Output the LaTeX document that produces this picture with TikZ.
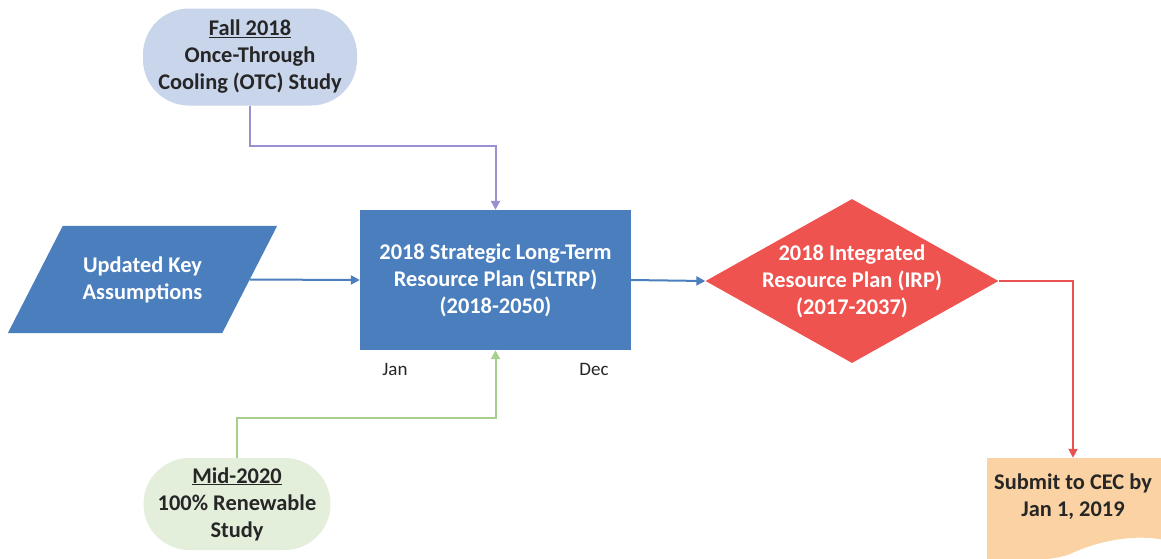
\documentclass[tikz,border=0pt]{standalone}
\usepackage{fontspec}
\setmainfont{Carlito}
\usetikzlibrary{arrows.meta,shapes.geometric,backgrounds}
\definecolor{boxblue}{HTML}{4A7EBD}
\definecolor{lineblue}{HTML}{4A7EBD}
\definecolor{irpred}{HTML}{EF5350}
\definecolor{linered}{HTML}{E85252}
\definecolor{linepurple}{HTML}{9C8FD0}
\definecolor{linegreen}{HTML}{A8D08D}
\definecolor{fillltblue}{HTML}{C8D5EA}
\definecolor{fillltgreen}{HTML}{E3EEDB}
\definecolor{filldoc}{HTML}{FAD2A3}
\definecolor{darktext}{HTML}{262626}
\tikzset{
  bigtext/.style={font=\fontsize{22.4}{27}\selectfont\bfseries, align=center, inner sep=0pt},
  term/.style={bigtext, rounded corners=46pt, text=darktext},
  proc/.style={bigtext, fill=boxblue, text=white, minimum width=271pt, minimum height=140pt},
  conn/.style={line width=2pt, -{Triangle[length=9pt,width=9pt]}},
  small/.style={font=\fontsize{19}{22}\selectfont, text=darktext, inner sep=0pt},
}
\begin{document}
\begin{tikzpicture}[x=1pt,y=-1pt]
\useasboundingbox (0,0) rectangle (1161,558);
\begin{scope}[on background layer]
\fill[white] (0,0) rectangle (1161,558);
\end{scope}

% top terminator
\node[term, fill=fillltblue, minimum width=214pt, minimum height=97pt] (otc) at (250,57)
  {\underline{Fall 2018}\\Once-Through\\Cooling (OTC) Study};

% bottom terminator
\node[term, fill=fillltgreen, minimum width=187pt, minimum height=92pt] (ren) at (237,504)
  {\underline{Mid-2020}\\100\% Renewable\\Study};

% parallelogram
\node[bigtext, text=white, minimum width=214pt, minimum height=107pt] (upd) at (142.5,279.5)
  {Updated Key\\Assumptions};
\begin{scope}[on background layer]
\fill[boxblue] ([xshift=27.5pt]upd.north west) -- ([xshift=27.5pt]upd.north east)
  -- ([xshift=-27.5pt]upd.south east) -- ([xshift=-27.5pt]upd.south west) -- cycle;
\end{scope}

% main process
\node[proc] (sltrp) at (495.5,280)
  {2018 Strategic Long-Term\\Resource Plan (SLTRP)\\(2018-2050)};

\node[small, anchor=base] (jan) at (395,375) {Jan};
\node[small, anchor=base] (dec) at (594,375) {Dec};

% diamond
\node[diamond, fill=irpred, minimum width=293pt, minimum height=164pt, inner sep=0pt,
  label={[bigtext, text=white]center:{2018 Integrated\\Resource Plan (IRP)\\(2017-2037)}}]
  (irp) at (852,281) {};

% document
\node[bigtext, text=darktext, minimum width=172pt, minimum height=78pt] (doc) at (1073,497)
  {Submit to CEC by\\Jan 1, 2019};
\begin{scope}[on background layer]
\fill[filldoc] (987,458) -- (1165,458) -- (1165,540)
  .. controls (1135,534) and (1100,540) .. (1070,554)
  .. controls (1050,562) and (1010,561) .. (987,560) -- cycle;
\end{scope}

% connectors
\draw[conn, linepurple] (otc.south) -- ++(0,40) -| (sltrp.north);
\draw[conn, linegreen] (ren.north) -- ++(0,-40) -| (sltrp.south);
\draw[conn, lineblue] (upd.east) -- (sltrp.west);
\draw[conn, lineblue] (sltrp.east) -- (irp.west);
\draw[conn, linered] (irp.east) -| (doc.north);
\end{tikzpicture}
\end{document}
